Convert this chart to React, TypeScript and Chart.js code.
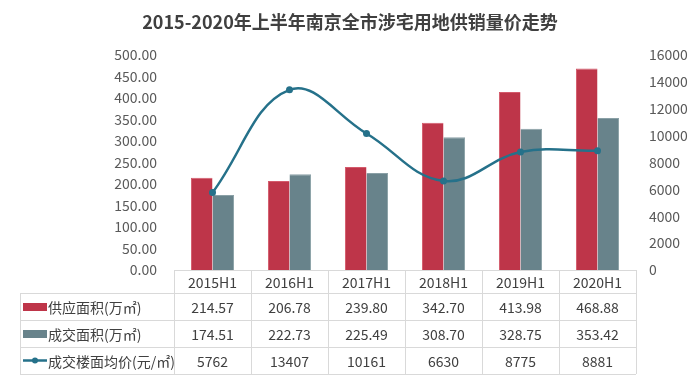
import React, { useEffect, useRef } from "react";
import { Chart, registerables } from "chart.js";

Chart.register(...registerables);

const title = "2015-2020年上半年南京全市涉宅用地供销量价走势";
const categories = ["2015H1", "2016H1", "2017H1", "2018H1", "2019H1", "2020H1"];
const supplyArea = [214.57, 206.78, 239.8, 342.7, 413.98, 468.88];
const dealArea = [174.51, 222.73, 225.49, 308.7, 328.75, 353.42];
const avgPrice = [5762, 13407, 10161, 6630, 8775, 8881];
const seriesNames = ["供应面积(万㎡)", "成交面积(万㎡)", "成交楼面均价(元/㎡)"];

const RED = "#be3549";
const GRAY = "#68838b";
const TEAL = "#25718a";
const FONT = "'Noto Sans CJK SC', 'Noto Sans', sans-serif";

const tablePlugin = {
  id: "dataTable",
  afterDraw(chart: any) {
    const ctx = chart.ctx as CanvasRenderingContext2D;
    const area = chart.chartArea;
    const n = categories.length;
    const colW = (area.right - area.left) / n;
    const top = area.bottom;
    const headH = 23;
    const rowH = 27;
    const legendLeft = 20;
    const rows = [supplyArea.map((v) => v.toFixed(2)), dealArea.map((v) => v.toFixed(2)), avgPrice.map((v) => String(v))];
    const bottom = top + headH + rowH * rows.length;
    ctx.save();
    // title
    ctx.fillStyle = "#404040";
    ctx.font = `bold 18px ${FONT}`;
    ctx.textAlign = "center";
    ctx.textBaseline = "middle";
    ctx.fillText(title, chart.width / 2, 22);

    // grid lines
    ctx.strokeStyle = "#d9d9d9";
    ctx.lineWidth = 1;
    ctx.beginPath();
    const hy = (y: number) => Math.round(y) + 0.5;
    const vx = (x: number) => Math.round(x) + 0.5;
    ctx.moveTo(area.left, hy(top));
    ctx.lineTo(area.right, hy(top));
    for (let r = 0; r <= rows.length; r++) {
      const y = hy(top + headH + r * rowH);
      ctx.moveTo(legendLeft, y);
      ctx.lineTo(area.right, y);
    }
    ctx.moveTo(vx(legendLeft), top + headH);
    ctx.lineTo(vx(legendLeft), bottom);
    for (let i = 0; i <= n; i++) {
      const x = vx(area.left + i * colW);
      ctx.moveTo(x, top);
      ctx.lineTo(x, bottom);
    }
    ctx.stroke();

    // header
    ctx.fillStyle = "#404040";
    ctx.font = `14px ${FONT}`;
    ctx.textAlign = "center";
    ctx.textBaseline = "middle";
    categories.forEach((c, i) => {
      ctx.fillText(c, area.left + (i + 0.5) * colW, top + headH / 2 + 1);
    });
    rows.forEach((row, r) => {
      const cy = top + headH + (r + 0.5) * rowH + 1;
      row.forEach((v, i) => {
        ctx.fillText(v, area.left + (i + 0.5) * colW, cy);
      });
    });

    // legend column
    ctx.textAlign = "left";
    seriesNames.forEach((name, r) => {
      const cy = top + headH + (r + 0.5) * rowH;
      if (r < 2) {
        ctx.fillStyle = r === 0 ? RED : GRAY;
        ctx.fillRect(23, Math.round(cy) - 4, 24, 8);
      } else {
        ctx.strokeStyle = TEAL;
        ctx.lineWidth = 2.5;
        ctx.beginPath();
        ctx.moveTo(23, cy);
        ctx.lineTo(47, cy);
        ctx.stroke();
        ctx.fillStyle = TEAL;
        ctx.beginPath();
        ctx.arc(35, cy, 3, 0, Math.PI * 2);
        ctx.fill();
      }
      ctx.fillStyle = "#404040";
      ctx.fillText(name, 48, cy + 1);
    });
    ctx.restore();
  },
};

export default function App() {
  const ref = useRef<HTMLCanvasElement>(null);
  useEffect(() => {
    if (!ref.current) return;
    const chart = new Chart(ref.current, {
      type: "bar",
      data: {
        labels: categories,
        datasets: [
          {
            type: "line",
            label: seriesNames[2],
            data: avgPrice,
            yAxisID: "y1",
            borderColor: TEAL,
            backgroundColor: TEAL,
            borderWidth: 2.5,
            pointRadius: 3.5,
            pointBackgroundColor: TEAL,
            pointBorderWidth: 0,
            tension: 0.4,
            order: 0,
          } as any,
          {
            label: seriesNames[0],
            data: supplyArea,
            yAxisID: "y",
            backgroundColor: RED,
            borderColor: "#d45a6b",
            borderWidth: { top: 1, left: 1, right: 0, bottom: 0 },
            categoryPercentage: 0.56,
            barPercentage: 1,
            order: 1,
          },
          {
            label: seriesNames[1],
            data: dealArea,
            yAxisID: "y",
            backgroundColor: GRAY,
            borderColor: "#8aa0a6",
            borderWidth: { top: 1, left: 0, right: 1, bottom: 0 },
            categoryPercentage: 0.56,
            barPercentage: 1,
            order: 2,
          },
        ],
      },
      options: {
        responsive: false,
        animation: false,
        devicePixelRatio: 1,
        layout: { padding: { top: 55, bottom: 110, left: 0, right: 0 } },
        plugins: {
          legend: { display: false },
          title: { display: false },
          tooltip: { enabled: false },
        },
        scales: {
          x: {
            display: false,
            grid: { display: false },
          },
          y: {
            position: "left",
            min: 0,
            max: 500,
            grid: { display: false, drawTicks: false },
            border: { display: false },
            ticks: {
              stepSize: 50,
              padding: 17,
              color: "#595959",
              font: { family: FONT, size: 14 },
              callback: (v: any) => Number(v).toFixed(2),
            },
            afterFit: (s: any) => {
              s.width = 174;
            },
          },
          y1: {
            position: "right",
            min: 0,
            max: 16000,
            grid: { display: false, drawTicks: false },
            border: { display: false },
            ticks: {
              stepSize: 2000,
              padding: 13,
              color: "#595959",
              font: { family: FONT, size: 14 },
              callback: (v: any) => String(v),
            },
            afterFit: (s: any) => {
              s.width = 64;
            },
          },
        },
      },
      plugins: [tablePlugin],
    });
    return () => chart.destroy();
  }, []);
  return (
    <div style={{ position: "absolute", left: 0, top: 0, width: 700, height: 380, background: "#fff" }}>
      <canvas ref={ref} width={700} height={380} style={{ display: "block" }} />
    </div>
  );
}
